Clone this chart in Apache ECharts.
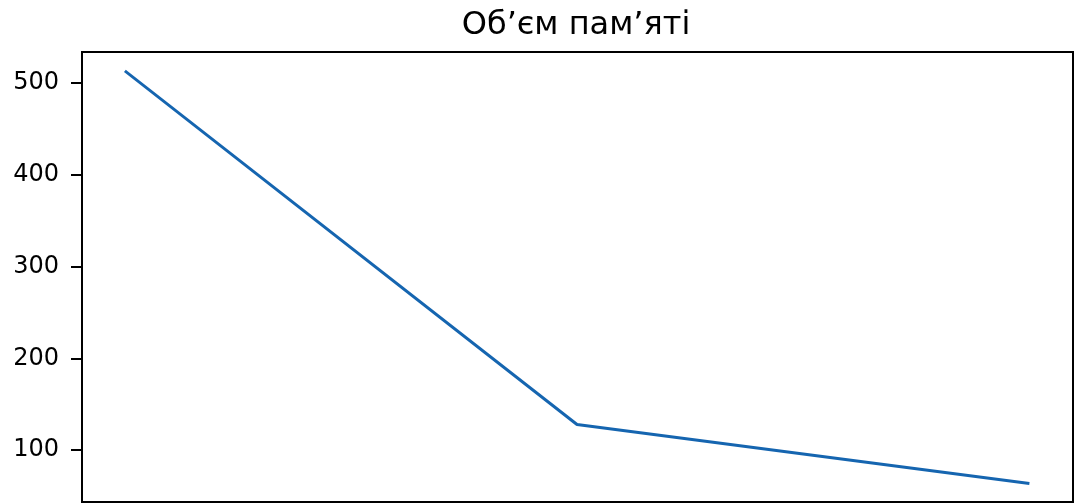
<!DOCTYPE html>
<html>
<head>
<meta charset="utf-8">
<script src="https://cdn.jsdelivr.net/npm/echarts@6/dist/echarts.min.js"></script>
<style>html,body{margin:0;padding:0;background:#fff;}#c{width:1075px;height:503px;}</style>
</head>
<body>
<div id="c"></div>
<script>
const title = 'Об’єм пам’яті';
const xValues = [0, 1, 2];
const memory = [512, 128, 64];
const yTicks = [100, 200, 300, 400, 500];

const chart = echarts.init(document.getElementById('c'), null, {renderer: 'canvas'});
const font = 'DejaVu Sans';
chart.setOption({
  animation: false,
  backgroundColor: '#fff',
  title: {
    text: title, left: 576, top: 10, textAlign: 'center', padding: 0,
    textStyle: {fontFamily: font, fontSize: 32, fontWeight: 'normal', color: '#000'}
  },
  grid: [
    {left: 81, right: 2, top: -9, bottom: -39, containLabel: false, outerBoundsMode: 'none'},
    {left: 82, width: 991, top: 52, bottom: 1, show: true, borderColor: '#000', borderWidth: 2, backgroundColor: 'transparent', z: 10, outerBoundsMode: 'none'}
  ],
  xAxis: [
    {gridIndex: 0, type: 'value', min: -0.1, max: 2.1, show: false},
    {gridIndex: 1, type: 'value', min: 0, max: 1, show: false}
  ],
  yAxis: [
    {
      gridIndex: 0, type: 'value', min: 0, max: 600, interval: 100,
      axisLine: {show: false, onZero: false},
      axisTick: {show: true, length: 10, lineStyle: {color: '#000', width: 2}},
      splitLine: {show: false},
      axisLabel: {
        margin: 22, fontFamily: font, fontSize: 24, color: '#000',
        formatter: v => (yTicks.indexOf(v) >= 0 ? String(v) : '')
      }
    },
    {gridIndex: 1, type: 'value', min: 0, max: 1, show: false}
  ],
  series: [{
    type: 'line',
    xAxisIndex: 0, yAxisIndex: 0,
    data: xValues.map((x, i) => [x, memory[i]]),
    showSymbol: false, symbol: 'none',
    lineStyle: {color: '#1565b0', width: 3, cap: 'square'},
    clip: false
  }]
});
</script>
</body>
</html>
